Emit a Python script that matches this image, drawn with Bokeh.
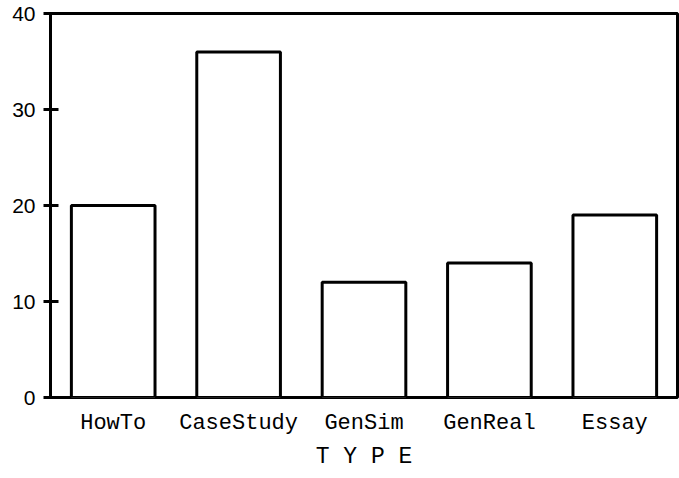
from bokeh.plotting import figure
from bokeh.models import FactorRange, Range1d, ColumnDataSource, FixedTicker
from bokeh.embed import file_html
from bokeh.resources import INLINE

types = ["HowTo", "CaseStudy", "GenSim", "GenReal", "Essay"]
counts = [20, 36, 12, 14, 19]
y_ticks = [0, 10, 20, 30, 40]

src = ColumnDataSource(dict(type=types, count=counts))

p = figure(x_range=FactorRange(*types, range_padding=0), y_range=Range1d(0, 40),
           width=679, height=478, output_backend="svg", toolbar_location=None,
           min_border_left=50, min_border_right=2, min_border_top=13, min_border_bottom=81)

p.vbar(x="type", top="count", width=0.667, bottom=0, source=src,
       fill_color="white", line_color="black", line_width=3)

p.background_fill_color = "white"
p.border_fill_color = "white"
p.outline_line_color = "black"
p.outline_line_width = 3
p.xgrid.visible = False
p.ygrid.visible = False

ya = p.yaxis[0]
ya.ticker = FixedTicker(ticks=y_ticks)
ya.minor_tick_line_color = None
ya.major_tick_out = 7
ya.major_tick_in = 8
ya.major_tick_line_width = 3
ya.major_tick_line_color = "black"
ya.axis_line_width = 3
ya.axis_line_color = "black"
ya.major_label_standoff = 8
ya.major_label_text_font = "Liberation Sans"
ya.major_label_text_font_size = "21px"
ya.major_label_text_color = "black"

xa = p.xaxis[0]
xa.axis_line_color = None
xa.major_tick_line_color = None
xa.minor_tick_line_color = None
xa.major_tick_out = 0
xa.major_tick_in = 0
xa.major_label_standoff = 13
xa.major_label_text_font = "Liberation Mono"
xa.major_label_text_font_size = "22px"
xa.major_label_text_color = "black"
xa.axis_label = "T Y P E"
xa.axis_label_text_font = "Liberation Mono"
xa.axis_label_text_font_style = "normal"
xa.axis_label_text_font_size = "23px"
xa.axis_label_text_color = "black"
xa.axis_label_standoff = 5

open("out.html", "w").write(file_html(p, INLINE))
